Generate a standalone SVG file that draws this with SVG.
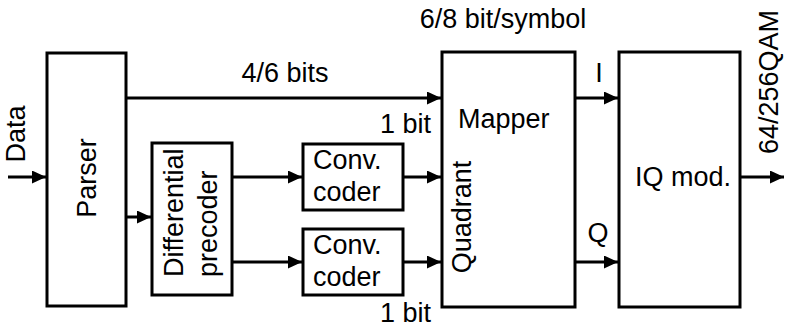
<svg xmlns="http://www.w3.org/2000/svg" width="785" height="328" viewBox="0 0 785 328">
<style>
  .box { fill: #ffffff; stroke: #000000; stroke-width: 3; }
  .lbl { font-family: "Liberation Sans", Arial, sans-serif; font-size: 27px; fill: #000000; }
  .mid { text-anchor: middle; }
  .end { text-anchor: end; }
  .wire { stroke: #000000; stroke-width: 3; fill: none; }
  .arr { marker-end: url(#ah); }
</style>
<defs>
  <marker id="ah" markerUnits="userSpaceOnUse" markerWidth="15" markerHeight="13" refX="14" refY="6.5" orient="auto">
    <path d="M0,0 L14,6.5 L0,13 Z" fill="#000000"/>
  </marker>
</defs>
<rect width="785" height="328" fill="#ffffff"/>

<g id="connectors">
  <line class="wire arr" x1="8" y1="177" x2="46" y2="177"/>
  <line class="wire arr" x1="126" y1="98" x2="441" y2="98"/>
  <line class="wire arr" x1="126" y1="217" x2="151" y2="217"/>
  <line class="wire arr" x1="232" y1="177" x2="302" y2="177"/>
  <line class="wire arr" x1="232" y1="262" x2="302" y2="262"/>
  <line class="wire arr" x1="403" y1="177" x2="441" y2="177"/>
  <line class="wire arr" x1="403" y1="262" x2="441" y2="262"/>
  <line class="wire arr" x1="575" y1="98" x2="618" y2="98"/>
  <line class="wire arr" x1="575" y1="262" x2="618" y2="262"/>
  <line class="wire arr" x1="740" y1="177" x2="784" y2="177"/>
</g>

<g id="labels">
  <text class="lbl mid" transform="translate(25,134) rotate(-90)">Data</text>
  <text class="lbl mid" x="285" y="82">4/6 bits</text>
  <text class="lbl end" x="431" y="133">1 bit</text>
  <text class="lbl end" x="431" y="322">1 bit</text>
  <text class="lbl mid" x="503" y="28">6/8 bit/symbol</text>
  <text class="lbl mid" x="599" y="82">I</text>
  <text class="lbl mid" x="598" y="242">Q</text>
  <text class="lbl mid" transform="translate(778,82) rotate(-90)">64/256QAM</text>
</g>

<g id="parser">
  <rect class="box" x="47" y="53" width="79" height="253"/>
  <text class="lbl mid" transform="translate(96,178) rotate(-90)">Parser</text>
</g>

<g id="precoder">
  <rect class="box" x="152" y="143" width="80" height="152"/>
  <text class="lbl" transform="translate(183,277) rotate(-90)">Differential</text>
  <text class="lbl" transform="translate(217,277) rotate(-90)">precoder</text>
</g>

<g id="conv1">
  <rect class="box" x="303" y="144" width="100" height="66"/>
  <text class="lbl" x="313" y="169">Conv.</text>
  <text class="lbl" x="313" y="201">coder</text>
</g>

<g id="conv2">
  <rect class="box" x="303" y="229" width="100" height="66"/>
  <text class="lbl" x="313" y="254">Conv.</text>
  <text class="lbl" x="313" y="286">coder</text>
</g>

<g id="mapper">
  <rect class="box" x="442" y="52" width="133" height="255"/>
  <text class="lbl" x="458" y="128">Mapper</text>
  <text class="lbl mid" transform="translate(471,217) rotate(-90)">Quadrant</text>
</g>

<g id="iqmod">
  <rect class="box" x="619" y="52" width="121" height="255"/>
  <text class="lbl mid" x="683" y="186">IQ mod.</text>
</g>
</svg>
